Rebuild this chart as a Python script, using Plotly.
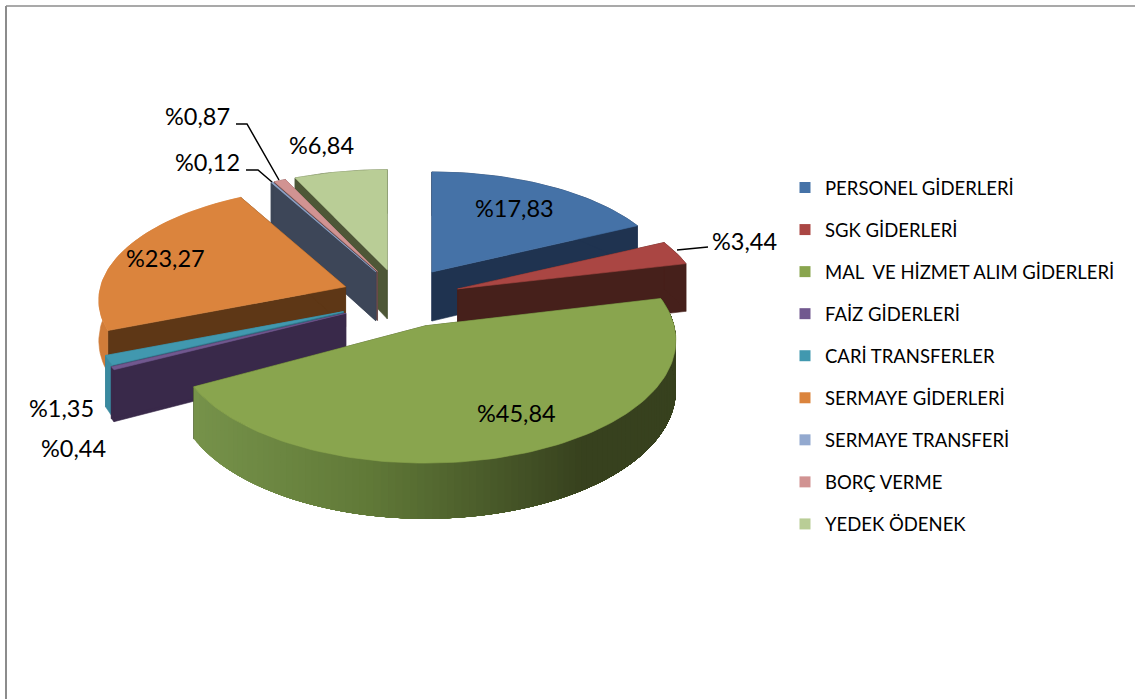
import math
import plotly.graph_objects as go

categories = ["PERSONEL GİDERLERİ", "SGK GİDERLERİ", "MAL  VE HİZMET ALIM GİDERLERİ", "FAİZ GİDERLERİ",
              "CARİ TRANSFERLER", "SERMAYE GİDERLERİ", "SERMAYE TRANSFERİ", "BORÇ VERME", "YEDEK ÖDENEK"]
values = [17.83, 3.44, 45.84, 0.44, 1.35, 23.27, 0.12, 0.87, 6.84]
value_labels = ["%17,83", "%3,44", "%45,84", "%0,44", "%1,35", "%23,27", "%0,12", "%0,87", "%6,84"]
top_colors = ["#4572A7", "#AA4643", "#89A54E", "#71588F", "#4198AF", "#DB843D", "#93A9CF", "#D19392", "#B9CD96"]
wall_colors = ["#1F3350", "#46201B", "#37411E", "#39294A", "#2F7085", "#5E3716", "#3D4658", "#6A4A4A", "#4E5737"]
curve_colors = ["#1F3350", "#46201B", None, "#39294A", "#3A8AA0", "#D07C39", "#3D4658", "#6A4A4A", "#4E5737"]
draw_order = [8, 7, 6, 0, 5, 4, 3, 1, 2]
# small per-slice placement tweaks: dx, dy, x-scale, y-scale
tweaks = {2: (3, -7, 1.015, 1.08), 0: (-1, -2, 0.98, 1.0), 1: (0, -2, 0.985, 1.0),
          3: (-2, -4, 1.015, 1.0), 4: (-3, -4, 1.0, 1.0), 5: (1, -4, 1.0, 1.0),
          6: (3, -1, 1.0, 1.0), 7: (3, -1, 1.0, 1.0), 8: (-1, 0, 1.0, 1.0)}

# Projection settings (screen-pixel axes)
CX, CY, A, B, P, EX, EY, DEPTH = 401, 302, 245, 112, 0.119, 60, 33, 49
ORANGE_DEPTH = 40
GREEN_WALL = [(0.0, "#76924A"), (0.35, "#617A38"), (0.6, "#4A5B2A"), (0.8, "#37411E"), (1.0, "#37411E")]


def proj(i, theta, radius, mid, z=0.0):
    dx, dy, fx, fy = tweaks.get(i, (0, 0, 1.0, 1.0))
    X = radius * math.sin(theta)
    Y = -radius * math.cos(theta)
    s = 1 / (1 - P * Y)
    return (CX + dx + EX * math.sin(mid) + fx * A * X * s,
            CY + dy - EY * math.cos(mid) + fy * B * Y * s + z * s)


def lerp_color(stops, t):
    t = max(0.0, min(1.0, t))
    for (t0, c0), (t1, c1) in zip(stops, stops[1:]):
        if t <= t1:
            f = (t - t0) / (t1 - t0)
            rgb = [round(int(c0[i:i + 2], 16) + f * (int(c1[i:i + 2], 16) - int(c0[i:i + 2], 16))) for i in (1, 3, 5)]
            return "rgb(%d,%d,%d)" % tuple(rgb)
    return stops[-1][1]


def poly(fig, pts, color, width=0.6):
    xs = [p[0] for p in pts] + [pts[0][0]]
    ys = [p[1] for p in pts] + [pts[0][1]]
    fig.add_trace(go.Scatter(x=xs, y=ys, mode="lines", fill="toself", fillcolor=color,
                             line=dict(color=color, width=width), hoverinfo="skip", showlegend=False))


fig = go.Figure()
total = sum(values)
starts, cum = [], 0.0
for v in values:
    starts.append(cum / total * 2 * math.pi)
    cum += v
ends = starts[1:] + [2 * math.pi]

for i in draw_order:
    t0, t1 = starts[i], ends[i]
    mid = (t0 + t1) / 2
    depth = ORANGE_DEPTH if i == 5 else DEPTH
    # radial walls
    for t in (t0, t1):
        poly(fig, [proj(i, t, 0, mid), proj(i, t, 1, mid), proj(i, t, 1, mid, depth), proj(i, t, 0, mid, depth)],
             wall_colors[i])
    # outer curved wall
    n = max(2, int((t1 - t0) / (2 * math.pi) * 200))
    angles = [t0 + (t1 - t0) * k / n for k in range(n + 1)]
    if curve_colors[i] is None:
        # shaded wall: overlapping bands running from the left end, each reaching to the far end
        bands = 110
        for k in range(bands):
            a0 = t1 - (t1 - t0) * k / bands
            xm = proj(i, a0, 1, mid)[0]
            col = lerp_color(GREEN_WALL, (xm - 193) / (676 - 193))
            sub = [a0 + (t0 - a0) * j / 40 for j in range(41)]
            pts = [proj(i, a, 1, mid) for a in sub] + [proj(i, a, 1, mid, depth) for a in reversed(sub)]
            poly(fig, pts, col, width=0)
    else:
        pts = [proj(i, a, 1, mid) for a in angles] + [proj(i, a, 1, mid, depth) for a in reversed(angles)]
        poly(fig, pts, curve_colors[i])
    # top surface
    m = max(2, int((t1 - t0) / (2 * math.pi) * 240))
    pts = [proj(i, t0, 0, mid)] + [proj(i, t0 + (t1 - t0) * k / m, 1, mid) for k in range(m + 1)]
    poly(fig, pts, top_colors[i])

# legend entries
for name, color in zip(categories, top_colors):
    fig.add_trace(go.Scatter(x=[None], y=[None], mode="markers", name=name, legendgroup=name,
                             marker=dict(symbol="square", size=11, color=color)))

label_pos = [(514, 208), (744, 241), (516, 413), (73, 448), (61, 408), (165, 258), (207, 162), (197, 116), (321, 145)]
annotations = [dict(x=x, y=y, text=t, showarrow=False, xanchor="center", yanchor="middle",
                    font=dict(family="Lato, Carlito, sans-serif", size=23.5, color="#000000"))
               for (x, y), t in zip(label_pos, value_labels)]

shapes = [
    dict(type="line", x0=6, y0=6, x1=1135, y1=6, line=dict(color="#8C8C8C", width=1.5)),
    dict(type="line", x0=6, y0=6, x1=6, y1=699, line=dict(color="#8C8C8C", width=2)),
    dict(type="path", path="M 236 124 L 247 124 L 279 180", line=dict(color="#000000", width=1.5)),
    dict(type="path", path="M 246 170 L 258 170 L 272 182", line=dict(color="#000000", width=1.5)),
    dict(type="path", path="M 677 250 L 708 247", line=dict(color="#000000", width=1.5)),
]

fig.update_layout(
    width=1135, height=699, margin=dict(l=0, r=0, t=0, b=0),
    paper_bgcolor="#FFFFFF", plot_bgcolor="#FFFFFF",
    xaxis=dict(range=[0, 1135], visible=False, fixedrange=True),
    yaxis=dict(range=[699, 0], visible=False, fixedrange=True),
    annotations=annotations, shapes=shapes, showlegend=True,
    legend=dict(x=785 / 1135, y=1 - 169 / 699, xanchor="left", yanchor="top", tracegroupgap=15,
                font=dict(family="Lato, Carlito, sans-serif", size=18.5, color="#000000"),
                bgcolor="rgba(0,0,0,0)", itemclick=False, itemdoubleclick=False),
)
fig.write_html("out.html", config={"displayModeBar": False},
               post_script="document.body.style.margin='0';document.documentElement.style.overflow='hidden';")
